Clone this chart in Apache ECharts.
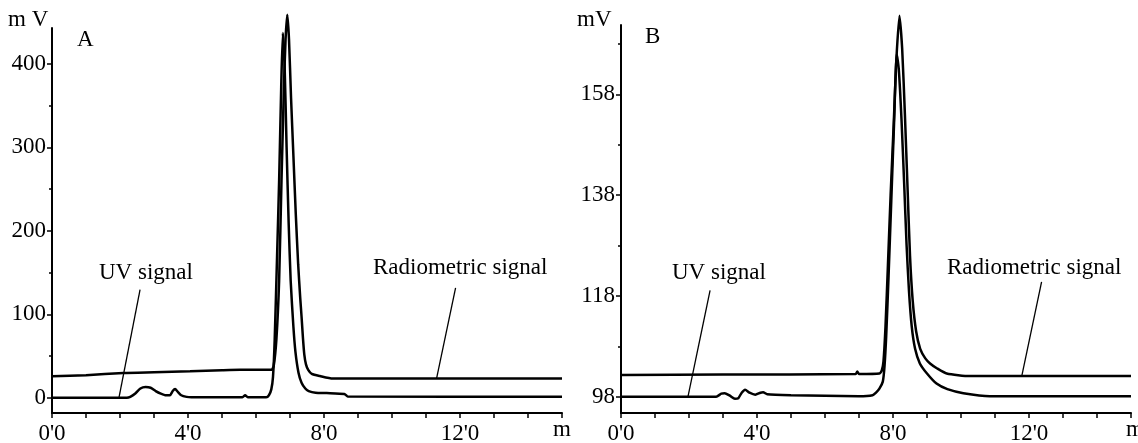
<!DOCTYPE html>
<html>
<head>
<meta charset="utf-8">
<script src="https://cdn.jsdelivr.net/npm/echarts@6/dist/echarts.min.js"></script>
<style>
html,body{margin:0;padding:0;background:#fff;}
#chart{width:1138px;height:443px;}
</style>
</head>
<body>
<div id="chart"></div>
<script>
// ---- data (time in minutes, signal in mV) ----
const uvA = [[0,0],[2.2,0],[2.3,1],[2.45,5],[2.6,11],[2.75,12.8],[2.9,12],[3.05,8],[3.2,5],[3.35,3],[3.47,3],[3.55,8],[3.62,10.4],[3.7,7],[3.8,3],[3.96,1],[4.1,0.5],[5.6,0.5],[5.68,3],[5.76,0.5],[6.3,0.5],[6.38,3],[6.45,10],[6.5,25],[6.55,70],[6.62,170],[6.68,260],[6.74,370],[6.79,437],[6.84,400],[6.9,300],[6.96,210],[7.02,140],[7.1,85],[7.16,55],[7.25,30],[7.34,18],[7.45,11],[7.55,8],[7.75,6],[8.08,5.6],[8.6,4.5],[8.7,1.6],[15,1.2]];
const radA = [[0,25.6],[1,27],[2.1,29.6],[3,30.5],[4.06,31.6],[5,33],[5.53,33.6],[6.46,33.6],[6.52,38],[6.6,70],[6.68,140],[6.75,260],[6.82,370],[6.87,430],[6.92,459],[6.97,430],[7.03,360],[7.1,290],[7.17,220],[7.24,160],[7.3,120],[7.34,97],[7.38,72],[7.42,52],[7.47,40],[7.54,33],[7.64,28.6],[7.88,26],[8.26,23],[15,23]];
const uvB = [[0,98],[2.8,98],[2.95,98.6],[3.05,98.7],[3.2,98.2],[3.35,97.6],[3.45,97.7],[3.55,98.8],[3.65,99.4],[3.78,98.8],[3.95,98.4],[4.1,98.8],[4.18,98.9],[4.3,98.5],[5,98.3],[6,98.2],[7,98.1],[7.4,98.3],[7.5,98.8],[7.6,99.6],[7.7,101],[7.75,104],[7.8,110],[7.87,122],[7.95,137],[8.03,152],[8.11,166],[8.17,163],[8.25,153],[8.33,140],[8.4,128],[8.47,119],[8.55,112],[8.65,107.5],[8.79,104.6],[9.0,102.6],[9.28,100.6],[9.6,99.5],[10.07,98.7],[10.85,98.1],[15,98.1]];
const radB = [[0,102.3],[3,102.4],[6.9,102.5],[6.95,103],[7,102.5],[7.6,102.6],[7.67,103.2],[7.72,105],[7.78,112],[7.85,124],[7.93,138],[8.02,152],[8.1,165],[8.19,173.6],[8.27,167],[8.35,154],[8.43,139],[8.5,126],[8.58,117],[8.68,111],[8.8,107.5],[8.95,105.6],[9.09,104.6],[9.3,103.6],[9.58,102.6],[10.26,102.1],[15,102.1]];

// annotation pointers (data coordinates: label end -> curve)
const ptrUvA = [[2.59,129.5],[1.97,0]];
const ptrRadA = [[11.87,131.5],[11.31,23]];
const ptrUvB = [[2.62,119.1],[1.97,98]];
const ptrRadB = [[12.37,120.8],[11.79,102.2]];

// tick labels
const xLabelVals = [0,4,8,12];
const xTickVals = [0,1,2,3,4,5,6,7,8,9,10,11,12,13,14,15];
const yLabelsA = [0,100,200,300,400];
const yMinorA = [50,150,250,350];
const yLabelsB = [98,118,138,158];
const yMinorB = [108,128,148,168];

const FONT = 'Liberation Serif';
const FS = 23;
const black = '#000';

function xAxisDef(gi){
  return {
    type:'value', gridIndex:gi, min:0, max:15,
    axisLine:{show:true, onZero:false, lineStyle:{color:black,width:2}},
    axisTick:{show:true, customValues:xTickVals, length:5, lineStyle:{color:black,width:1.5}},
    axisLabel:{show:true, customValues:xLabelVals, formatter:v=>v+"'0", color:black, fontFamily:FONT, fontSize:FS, margin:9},
    splitLine:{show:false}
  };
}
function yAxisDef(gi,min,max,labels){
  return {
    type:'value', gridIndex:gi, min:min, max:max, position:'left',
    axisLine:{show:true, onZero:false, lineStyle:{color:black,width:2}},
    axisTick:{show:true, customValues:labels, length:5, lineStyle:{color:black,width:1.5}},
    axisLabel:{show:true, customValues:labels, color:black, fontFamily:FONT, fontSize:FS, margin:6},
    splitLine:{show:false}
  };
}
function yMinorDef(gi,min,max,vals){
  return {
    type:'value', gridIndex:gi, min:min, max:max, position:'left', offset:0,
    axisLine:{show:false},
    axisTick:{show:true, customValues:vals, length:3, lineStyle:{color:black,width:1.5}},
    axisLabel:{show:false},
    splitLine:{show:false}
  };
}
function curve(data,xi,yi){
  return {type:'line', xAxisIndex:xi, yAxisIndex:yi, data:data, showSymbol:false, symbol:'none',
    smooth:0.2, clip:false, silent:true, animation:false, lineStyle:{color:black,width:2.5}};
}
function pointer(data,xi,yi){
  return {type:'line', xAxisIndex:xi, yAxisIndex:yi, data:data, showSymbol:false, symbol:'none',
    clip:false, silent:true, animation:false, lineStyle:{color:black,width:1.3}};
}

const txt = (x,y,s,align)=>({type:'text', x:x, y:y, style:{text:s, font:FS+'px "'+FONT+'"', fill:black, align:align||'left', verticalAlign:'middle'}});

const chart = echarts.init(document.getElementById('chart'), null, {renderer:'canvas'});
chart.setOption({
  animation:false,
  backgroundColor:'#fff',
  grid:[
    {left:52, top:28, width:510, height:385, containLabel:false, outerBoundsMode:'none'},
    {left:621, top:25, width:510, height:388, containLabel:false, outerBoundsMode:'none'}
  ],
  xAxis:[xAxisDef(0), xAxisDef(1)],
  yAxis:[
    yAxisDef(0,-18.3,443,yLabelsA),
    yAxisDef(1,94.77,171.75,yLabelsB),
    yMinorDef(0,-18.3,443,yMinorA),
    yMinorDef(1,94.77,171.75,yMinorB)
  ],
  series:[
    curve(radA,0,0), curve(uvA,0,0),
    curve(radB,1,1), curve(uvB,1,1),
    pointer(ptrUvA,0,0), pointer(ptrRadA,0,0),
    pointer(ptrUvB,1,1), pointer(ptrRadB,1,1)
  ],
  graphic:[
    txt(8,20,'m V'), txt(77,40,'A'),
    txt(577,20,'mV'), txt(645,37,'B'),
    txt(99,273,'UV signal'), txt(373,268,'Radiometric signal'),
    txt(672,273,'UV signal'), txt(947,268,'Radiometric signal'),
    txt(553,430,'m'), txt(1126,430,'m')
  ]
});
</script>
</body>
</html>
